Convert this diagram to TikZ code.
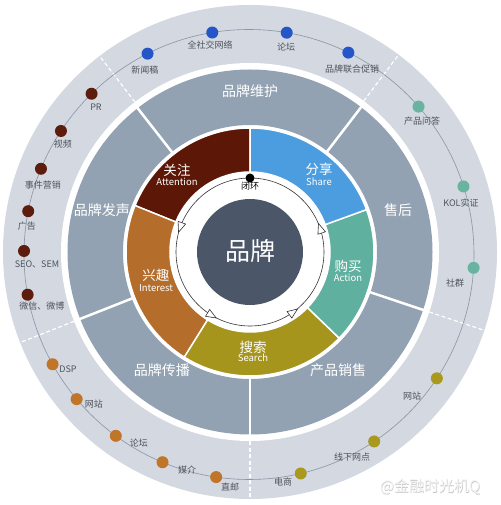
\documentclass[tikz,border=0pt]{standalone}
\usepackage{fontspec}
\setmainfont{Noto Sans CJK SC}
\definecolor{outerc}{HTML}{D3D8E1}
\definecolor{midc}{HTML}{93A2B2}
\definecolor{centc}{HTML}{4B5768}
\definecolor{trackc}{HTML}{8A95A6}
\definecolor{labgray}{HTML}{4F545C}
\definecolor{cbrown}{HTML}{5C1706}
\definecolor{cblue}{HTML}{4B9DE0}
\definecolor{cteal}{HTML}{5FB09E}
\definecolor{colive}{HTML}{A5951C}
\definecolor{corange}{HTML}{B56D2C}
\definecolor{dblue}{HTML}{2456C8}
\definecolor{dteal}{HTML}{69B3A0}
\definecolor{dolive}{HTML}{A99A1F}
\definecolor{dorange}{HTML}{C07528}
\definecolor{dbrown}{HTML}{5E1C0C}
\definecolor{cyc}{HTML}{333333}
\begin{document}
\begin{tikzpicture}[x=1pt,y=1pt,
  seclabel/.style={text=white, font=\fontsize{14}{16}\selectfont, inner sep=0},
  cn/.style={text=white, font=\fontsize{13.5}{15}\selectfont, inner sep=0},
  en/.style={text=white, font=\fontsize{9.5}{11}\selectfont, inner sep=0},
  dotlab/.style={text=labgray, font=\fontsize{9}{10}\selectfont, inner sep=0},
  mdot/.style={circle, fill=#1, minimum size=12pt, inner sep=0}]
\useasboundingbox (-250,-253) rectangle (250,252);
% outer ring
\fill[outerc] (0,0) circle[radius=247];
\fill[white] (0,0) circle[radius=189];
\foreach \a in {53,127.5,201.5,270,341.5}
  \draw[white, line width=1.2, dash pattern=on 4 off 2.5] (\a:189) -- (\a:247);
% track and dots
\draw[trackc, line width=0.6] (-1,-2.5) circle[radius=225];
\begin{scope}[shift={(-1,-2.5)}]
\node[mdot=dblue] (b1) at (116.8:225) {};
\node[mdot=dblue] (b2) at (99.4:225) {};
\node[mdot=dblue] (b3) at (80.35:225) {};
\node[mdot=dblue] (b4) at (63.8:225) {};
\node[mdot=dteal] (t1) at (41.1:225) {};
\node[mdot=dteal] (t2) at (17.6:225) {};
\node[mdot=dteal] (t3) at (-3.4:225) {};
\node[mdot=dolive] (o1) at (-33.4:225) {};
\node[mdot=dolive] (o2) at (-56.2:225) {};
\node[mdot=dolive] (o3) at (-76.7:225) {};
\node[mdot=dorange] (r1) at (261.6:225) {};
\node[mdot=dorange] (r2) at (247.4:225) {};
\node[mdot=dorange] (r3) at (233.7:225) {};
\node[mdot=dorange] (r4) at (220.0:225) {};
\node[mdot=dorange] (r5) at (209.2:225) {};
\node[mdot=dbrown] (w1) at (190.3:225) {};
\node[mdot=dbrown] (w2) at (179.1:225) {};
\node[mdot=dbrown] (w3) at (168.9:225) {};
\node[mdot=dbrown] (w4) at (157.6:225) {};
\node[mdot=dbrown] (w5) at (146.7:225) {};
\node[mdot=dbrown] (w6) at (134.4:225) {};
\end{scope}
\node[dotlab] (lb1) at (-105,182) {新闻稿};
\node[dotlab] (lb2) at (-40,207) {全社交网络};
\node[dotlab] (lb3) at (36,205) {论坛};
\node[dotlab] (lb4) at (102,183) {品牌联合促销};
\node[dotlab] (lt1) at (172,131) {产品问答};
\node[dotlab] (lt2) at (211,49) {KOL实证};
\node[dotlab] (lt3) at (205,-31) {社群};
\node[dotlab] (lo1) at (162,-144) {网站};
\node[dotlab] (lo2) at (102,-205) {线下网点};
\node[dotlab] (lo3) at (33,-230) {电商};
\node[dotlab] (lr1) at (-20,-235) {直邮};
\node[dotlab] (lr2) at (-63,-218) {媒介};
\node[dotlab] (lr3) at (-111,-191) {论坛};
\node[dotlab] (lr4) at (-156,-152) {网站};
\node[dotlab] (lr5) at (-182,-117) {DSP};
\node[dotlab] (lw1) at (-208,-54) {微信、微博};
\node[dotlab] (lw2) at (-213,-12) {SEO、SEM};
\node[dotlab] (lw3) at (-223,26) {广告};
\node[dotlab] (lw4) at (-207,67) {事件营销};
\node[dotlab] (lw5) at (-187,108) {视频};
\node[dotlab] (lw6) at (-154,145) {PR};
% middle ring
\fill[midc, even odd rule] (0,0) circle[radius=182.5] (0,0) circle[radius=127];
\foreach \a in {52.5,128,201.5,270,341.5}
  \draw[white, line width=2.5] (\a:125) -- (\a:184);
\node[seclabel] (m1) at (0,161) {品牌维护};
\node[seclabel] (m2) at (148,42) {售后};
\node[seclabel] (m3) at (88,-118) {产品销售};
\node[seclabel] (m4) at (-88,-118) {品牌传播};
\node[seclabel] (m5) at (-148,42) {品牌发声};
% coloured ring
\foreach \a/\b/\c in {90/158/cbrown, 158/238/corange, 238/316/colive, 316/380/cteal, 20/90/cblue}
  \filldraw[fill=\c, draw=white, line width=1.5] (\a:124) arc[start angle=\a, end angle=\b, radius=124]
    -- (\b:80) arc[start angle=\b, end angle=\a, radius=80] -- cycle;
\node[cn] (c1) at (-73,82) {关注};
\node[en] (e1) at (-73,70) {Attention};
\node[cn] (c2) at (69,83) {分享};
\node[en] (e2) at (69,70) {Share};
\node[cn] (c3) at (98,-14) {购买};
\node[en] (e3) at (98,-26) {Action};
\node[cn] (c4) at (3,-95) {搜索};
\node[en] (e4) at (3,-106) {Search};
\node[cn] (c5) at (-94,-23) {兴趣};
\node[en] (e5) at (-94,-36) {Interest};
% centre
\fill[white] (0,0) circle[radius=80];
\fill[centc] (0,0) circle[radius=53];
\node[text=white, font=\fontsize{25}{28}\selectfont, inner sep=0] (brand) at (0,1) {品牌};
% cycle
\draw[cyc, line width=0.6] (0,0) circle[radius=74];
\foreach \t in {160.6,18.7,239,306} {
  \begin{scope}[shift={(\t:74)}, rotate=\t+90]
    \draw[cyc, line width=0.6, fill=white] (5,0) -- (-5,4) -- (-5,-4) -- cycle;
  \end{scope}
}
\node[circle, fill=black, minimum size=9pt, inner sep=0] (loopdot) at (90:74) {};
\node[text=black, font=\fontsize{9}{10}\selectfont, inner sep=0] (looplab) at (0,66) {闭环};
% watermark
\node[text=gray!45, font=\fontsize{15}{17}\selectfont, inner sep=0] (wm0) at (180.6,-235.6) {@金融时光机Q};
\node[text=white!92!gray, font=\fontsize{15}{17}\selectfont, inner sep=0] (wm) at (180,-235) {@金融时光机Q};
\end{tikzpicture}
\end{document}
